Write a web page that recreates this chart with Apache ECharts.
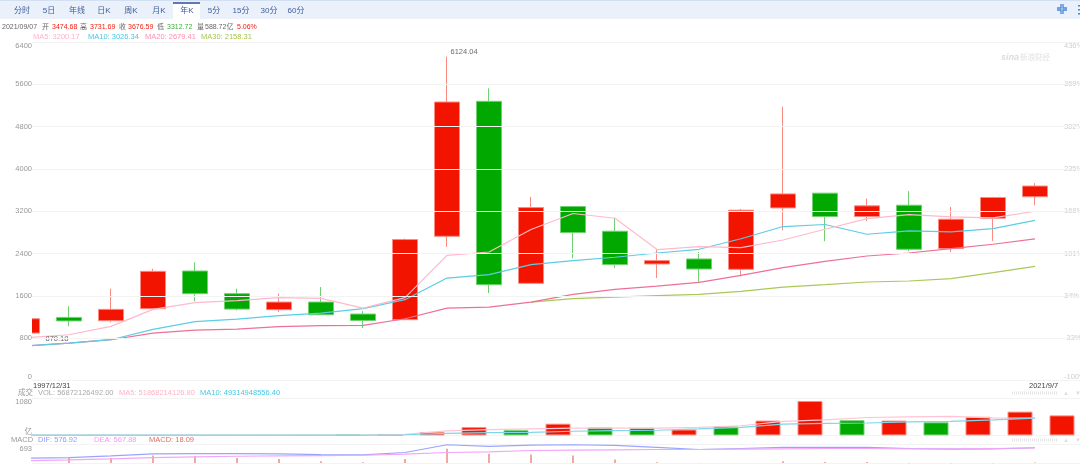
<!DOCTYPE html>
<html><head><meta charset="utf-8">
<style>html,body{margin:0;padding:0;background:#fff;overflow:hidden}#c{width:1080px;height:467px}</style>
<script src="https://cdn.jsdelivr.net/npm/echarts@6/dist/echarts.min.js"></script>
</head><body><div id="c"></div>
<script>
const years=[1997,1998,1999,2000,2001,2002,2003,2004,2005,2006,2007,2008,2009,2010,2011,2012,2013,2014,2015,2016,2017,2018,2019,2020,2021];
const opens=[896,1193,1130,1358,2070,1642,1339,1483,1256,1150,2727,5278,1837,3289,2822,2203,2298,2102,3263,3542,3100,3314,2494,3068,3474.68];
const closes=[1168,1127,1345,2064,1642,1350,1483,1244,1136,2665,5265,1812,3270,2797,2191,2267,2108,3220,3528,3100,3302,2481,3049,3460,3676.59];
const lows=[870.18,1028,1100,1340,1496,1326,1294,1240,990,1140,2525,1654,1837,2311,2127,1937,1843,1970,2841,2633,3011,2443,2430,2638,3312.72];
const highs=[1190,1407,1736,2115,2235,1736,1642,1767,1312,2684,6124.04,5524,3472,3300,3074,2475,2430,3244,5176,3542,3441,3580,3282,3472,3731.69];
const ma5=[810,865,1023,1345,1471,1509,1566,1553,1369,1566,2367,2430,2854,3157,3068,2475,2532,2513,2657,2860,3062,3138,3093,3074,3200.17];
const ma10=[655,706,771,966,1112,1161,1225,1275,1358,1528,1937,2002,2191,2267,2330,2411,2481,2680,2911,2949,2765,2828,2809,2873,3026.34];
const ma20=[655,706,771,896,953,972,1017,1036,1042,1168,1369,1388,1483,1629,1723,1786,1856,1989,2134,2254,2354,2411,2494,2576,2679.41];
const ma30=[null,null,null,null,null,null,null,null,null,null,null,null,1483,1547,1578,1604,1629,1686,1767,1812,1862,1881,1926,2040,2158.31];
const volumes=[5,5,5,5,5,8,15,25,35,108,260,162,367,249,238,184,282,465,1080,476,465,410,584,746,628];
const volUp=[1,1,1,1,1,1,-1,-1,-1,1,1,-1,1,-1,-1,1,-1,1,1,-1,1,-1,1,1,1];
const volMa5=[10,10,10,10,10,10,10,10,10,30,140,184,205,227,227,227,249,303,443,486,562,584,595,551,541];
const volMa10=[10,10,10,10,10,10,10,10,10,20,65,86,97,130,151,162,205,249,357,378,389,422,443,486,541];
const dif=[179,205,269,346,358,358,346,320,307,397,691,627,678,691,666,589,512,550,589,589,589,550,525,538,576.92];
const dea=[90,115,154,205,230,256,269,282,294,333,397,422,474,486,499,512,512,525,538,550,550,538,538,550,567.88];
const macd=[null,192,192,282,256,192,154,64,26,154,538,346,320,282,128,26,-10,0,64,38,38,-15,-15,-15,18.09];
const priceTicks=[0,800,1600,2400,3200,4000,4800,5600,6400];
const pctTicks=['-100%','-33%','34%','101%','168%','235%','302%','369%','436%'];
const tabs=['分时','5日','年线','日K','周K','月K','年K','5分','15分','30分','60分'];

const FONT="'Liberation Sans','Noto Sans CJK SC',sans-serif";
const RED='#f31400',GREEN='#00a800',REDB='#fb8a80',GREENB='#6fd06f';
const idx=a=>a.map((v,i)=>[i,v]);
const cand=years.map((y,i)=>[i,opens[i],closes[i],lows[i],highs[i]]);
const line=(name,data,color,xi,yi,w)=>({name,type:'line',data:idx(data),xAxisIndex:xi,yAxisIndex:yi,showSymbol:false,symbol:'none',
  lineStyle:{color,width:w||1.2},itemStyle:{color},silent:true,z:4});

const tabX=[22,49,77,104,131,159,187,214,241,269,296];
const g=[
 {type:'rect',shape:{x:0,y:0,width:1080,height:19},style:{fill:'#eaf1fb'},silent:true},
 {type:'rect',shape:{x:0,y:0,width:1080,height:1},style:{fill:'#d3e0f4'},silent:true},
 {type:'rect',shape:{x:173,y:2,width:27,height:17},style:{fill:'#ffffff'},silent:true},
 {type:'rect',shape:{x:173,y:2,width:27,height:2},style:{fill:'#6079b5'},silent:true},
 {type:'rect',z:5,shape:{x:0,y:43,width:32,height:337},style:{fill:'#ffffff'},silent:true}
];
tabs.forEach((s,i)=>g.push({type:'text',x:tabX[i],y:10.5,silent:true,style:{text:s,fill:'#3f5c9c',font:'8px '+FONT,align:'center',verticalAlign:'middle'}}));
[[1057,8,1061,8,1061,4],[1063,4,1063,8,1067,8],[1057,10,1061,10,1061,14],[1063,14,1063,10,1067,10]].forEach(p=>g.push({type:'polyline',silent:true,shape:{points:[[p[0],p[1]],[p[2],p[3]],[p[4],p[5]]]},style:{stroke:'#4a86d8',lineWidth:1.3,fill:null}}));
[5,9,13].forEach(y=>g.push({type:'rect',silent:true,shape:{x:1078,y,width:2,height:1.4},style:{fill:'#4a86d8'}}));
[[2,'2021/09/07','#666'],[42,'开','#666'],[52,'3474.68','#f01c10'],[80,'高','#666'],[90,'3731.69','#f01c10'],[119,'收','#666'],[128,'3676.59','#f01c10'],[157,'低','#666'],[167,'3312.72','#3cae3c'],[197,'量','#666'],[205,'588.72亿','#666'],[237,'5.06%','#f01c10']].forEach(a=>g.push({type:'text',x:a[0],y:27.5,silent:true,style:{text:a[1],fill:a[2],font:'7px '+FONT,verticalAlign:'middle'}}));
[[33,'MA5: 3200.17','#ffb3c7'],[88,'MA10: 3026.34','#45c8e2'],[145,'MA20: 2679.41','#ff8fb0'],[201,'MA30: 2158.31','#a6c74a']].forEach(a=>g.push({type:'text',x:a[0],y:37,silent:true,style:{text:a[1],fill:a[2],font:'7.5px '+FONT,verticalAlign:'middle'}}));
g.push({type:'text',x:33,y:386,silent:true,z:10,style:{text:'1997/12/31',fill:'#444',font:'7.5px '+FONT,verticalAlign:'middle'}});
g.push({type:'text',x:1029,y:386,silent:true,z:10,style:{text:'2021/9/7',fill:'#444',font:'7.5px '+FONT,verticalAlign:'middle'}});
[[18,'成交','#999'],[38,'VOL: 56872126492.00','#aaa'],[119,'MA5: 51868214126.80','#ffb3c7'],[200,'MA10: 49314948556.40','#45c8e2']].forEach(a=>g.push({type:'text',x:a[0],y:393,silent:true,style:{text:a[1],fill:a[2],font:'7.5px '+FONT,verticalAlign:'middle'}}));
[[11,'MACD','#999'],[38,'DIF: 576.92','#8f9bff'],[94,'DEA: 567.88','#f29cf5'],[149,'MACD: 18.09','#d9706a']].forEach(a=>g.push({type:'text',x:a[0],y:440,silent:true,style:{text:a[1],fill:a[2],font:'7.5px '+FONT,verticalAlign:'middle'}}));
[393,440].forEach(y=>{
 g.push({type:'line',silent:true,shape:{x1:1012,y1:y,x2:1058,y2:y},style:{stroke:'#e6e6e6',lineWidth:3,lineDash:[1,1]}});
 g.push({type:'text',x:1066,y,silent:true,style:{text:'▲',fill:'#ddd',font:'6px '+FONT,align:'center',verticalAlign:'middle'}});
 g.push({type:'text',x:1078,y,silent:true,style:{text:'▼',fill:'#ddd',font:'6px '+FONT,align:'center',verticalAlign:'middle'}});
});
g.push({type:'text',x:1001,y:58,silent:true,style:{text:'sina',fill:'#dcdcdc',font:'italic bold 9px '+FONT,verticalAlign:'middle'}});
g.push({type:'text',x:1020,y:58,silent:true,style:{text:'新浪财经',fill:'#e2e2e2',font:'7.5px '+FONT,verticalAlign:'middle'}});

const hidX=(gi,min,max)=>({type:'value',gridIndex:gi,min,max,show:false,splitLine:{show:false},containShape:false});
const split={show:true,lineStyle:{color:'#f3f3f3',width:1}};
const chart=echarts.init(document.getElementById('c'));
chart.setOption({
 animation:false,backgroundColor:'#fff',textStyle:{fontFamily:FONT},
 graphic:g,
 grid:[{left:32,right:0,top:42,height:338.5,outerBoundsMode:'none'},{left:32,right:0,top:398.2,height:37.2,outerBoundsMode:'none'},{left:32,right:0,top:444.7,height:18.3,outerBoundsMode:'none'}],
 xAxis:[hidX(0,5/42,1053/42),hidX(1,5/42,1053/42),hidX(1,-22/42,1026/42),hidX(2,5/42,1053/42)],
 yAxis:[
  {type:'value',gridIndex:0,z:10,min:0,max:6400,interval:800,position:'left',axisLine:{show:false},axisTick:{show:false},splitLine:split,
   axisLabel:{color:'#999',fontSize:7.5,margin:0,align:'right',verticalAlignMinLabel:'bottom',verticalAlignMaxLabel:'top',formatter:v=>String(v)}},
  {type:'value',gridIndex:0,min:0,max:6400,interval:800,position:'right',axisLine:{show:false},axisTick:{show:false},splitLine:{show:false},
   axisLabel:{inside:true,margin:16,align:'left',color:'#cfcfcf',fontSize:7.5,verticalAlignMinLabel:'bottom',verticalAlignMaxLabel:'top',formatter:v=>pctTicks[priceTicks.indexOf(v)]}},
  {type:'value',gridIndex:1,min:0,max:1168,interval:1168,axisLine:{show:false},axisTick:{show:false},splitLine:split,
   axisLabel:{color:'#999',fontSize:7.5,margin:0,align:'right',verticalAlignMinLabel:'bottom',verticalAlignMaxLabel:'top',formatter:v=>v===0?'亿':'1080'}},
  {type:'value',gridIndex:2,min:0,max:693,interval:693,axisLine:{show:false},axisTick:{show:false},splitLine:split,
   axisLabel:{color:'#999',fontSize:7.5,margin:0,align:'right',verticalAlignMaxLabel:'top',formatter:v=>v===0?'':'693'}}
 ],
 series:[
  {name:'K',type:'candlestick',xAxisIndex:0,yAxisIndex:0,data:cand,encode:{x:0,y:[1,2,3,4]},barWidth:25,silent:true,z:3,
   itemStyle:{color:RED,color0:GREEN,borderColor:REDB,borderColor0:GREENB,borderWidth:1}},
  {name:'extremes',type:'scatter',xAxisIndex:0,yAxisIndex:0,silent:true,clip:false,symbolSize:1,z:6,itemStyle:{color:'rgba(0,0,0,0)'},
   data:[{value:[10,highs[10]],label:{show:true,position:'right',distance:0,offset:[3,-5],color:'#444',fontSize:7.5,formatter:'6124.04'}},
         {value:[0,lows[0]],label:{show:true,position:'right',distance:0,offset:[18,4],color:'#444',fontSize:7.5,formatter:'870.18'}}]},
  line('MA30',ma30,'#a9c957',0,0),
  line('MA20',ma20,'#ee7095',0,0),
  line('MA10',ma10,'#5ccde4',0,0),
  line('MA5',ma5,'#ffb9cb',0,0),
  {name:'VOL',type:'bar',xAxisIndex:2,yAxisIndex:2,barWidth:25,silent:true,z:3,
   data:volumes.map((v,i)=>({value:[i,v],itemStyle:{color:volUp[i]>0?RED:GREEN,borderColor:volUp[i]>0?REDB:GREENB,borderWidth:v>50?1:0}}))},
  line('VMA5',volMa5,'#ffc4d3',1,2),
  line('VMA10',volMa10,'#7fd6e8',1,2),
  {name:'MACD',type:'bar',xAxisIndex:3,yAxisIndex:3,barWidth:1,clip:false,silent:true,
   data:macd.map((v,i)=>({value:[i,v],itemStyle:{color:v<0?'#7bd6a0':'#e0544a'}}))},
  line('DIF',dif,'#9aa4ff',3,3),
  line('DEA',dea,'#f3a6f7',3,3)
 ]
});
</script></body></html>
